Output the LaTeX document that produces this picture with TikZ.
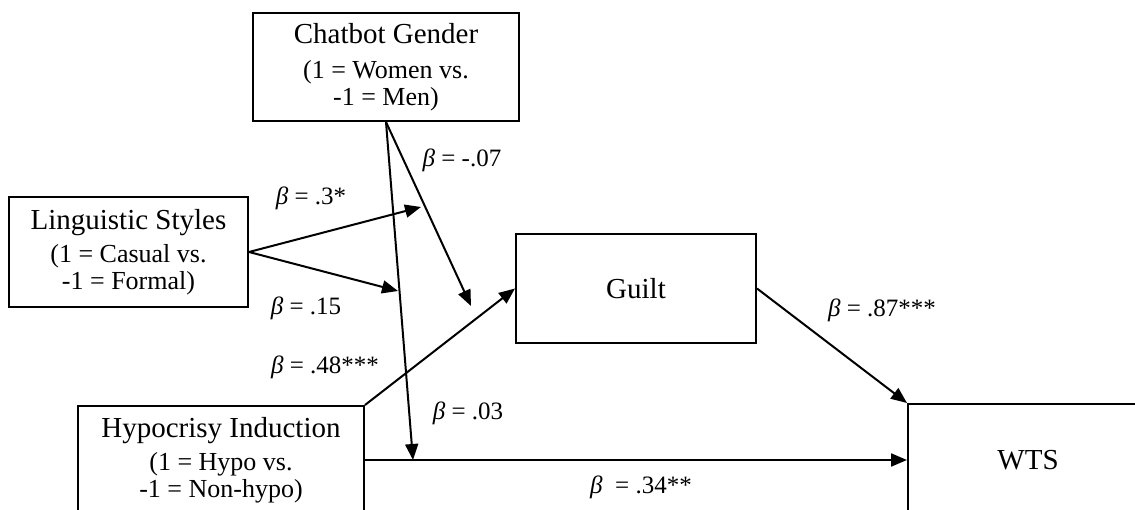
\documentclass[tikz,border=0pt]{standalone}
\usepackage{fontspec}
\setmainfont{Liberation Serif}
\usetikzlibrary{arrows.meta}
\tikzset{
  box/.style={draw=black, line width=2pt, fill=white, inner sep=0pt, align=center,
    font=\fontsize{26}{27}\selectfont},
  conn/.style={line width=2pt, black},
  arr/.style={conn, -{Triangle[length=16pt,width=13pt]}},
  lbl/.style={font=\fontsize{25}{28}\selectfont, inner sep=0pt},
}
\newcommand{\ttl}[1]{{\fontsize{29}{34}\selectfont #1}}
\newcommand{\bb}{{\itshape β}}
\begin{document}
\begin{tikzpicture}[x=1pt,y=-1pt]
\useasboundingbox (0,0) rectangle (1135,510);
\clip (0,0) rectangle (1135,510);
% boxes
\node[box, minimum width=266pt, minimum height=108pt] (gender) at (386,67)
  {\ttl{Chatbot Gender}\\[8pt](1 = Women vs.\\-1 = Men)};
\node[box, minimum width=239pt, minimum height=110pt] (ling) at (128.5,252)
  {\ttl{Linguistic Styles}\\[6pt](1 = Casual vs.\\-1 = Formal)};
\node[box, minimum width=240pt, minimum height=109pt] (guilt) at (636,288.5)
  {\ttl{Guilt}};
\node[box, minimum width=286pt, minimum height=108pt] (hypo) at (221,460)
  {\ttl{Hypocrisy Induction}\\[6pt](1 = Hypo vs.\\-1 = Non-hypo)};
\node[box, minimum width=240pt, minimum height=112pt] (wts) at (1028,460)
  {\ttl{WTS}};
% free ends
\coordinate (m1) at (421,207);
\coordinate (m2) at (398,291);
\coordinate (m3) at (471,306);
\coordinate (m4) at (413,460);
% connectors
\draw[arr] (ling.east) -- (m1);
\draw[arr] (ling.east) -- (m2);
\draw[arr] (gender.south) -- (m3);
\draw[arr] (gender.south) -- (m4);
\draw[arr] (hypo.north east) -- (guilt.west);
\draw[arr] (hypo.east) -- (wts.west);
\draw[arr] (guilt.east) -- (wts.north west);
% labels
\node[lbl] (l1) at (311,198) {\bb{} = .3*};
\node[lbl] (l2) at (306,308) {\bb{} = .15};
\node[lbl] (l3) at (462,160) {\bb{} = -.07};
\node[lbl] (l4) at (325,367) {\bb{} = .48***};
\node[lbl] (l5) at (468,413) {\bb{} = .03};
\node[lbl] (l6) at (641,487) {\bb{}\ \ = .34**};
\node[lbl] (l7) at (882,310) {\bb{} = .87***};
\end{tikzpicture}
\end{document}
